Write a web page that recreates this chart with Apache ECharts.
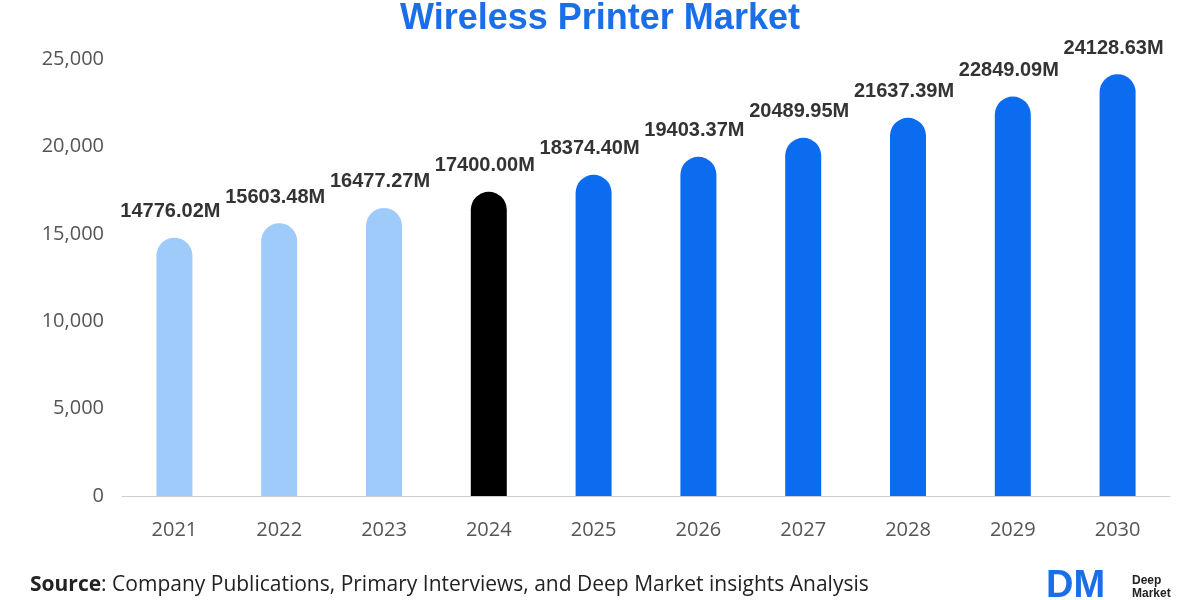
<!DOCTYPE html>
<html><head><meta charset="utf-8">
<script src="https://cdn.jsdelivr.net/npm/echarts@6/dist/echarts.min.js"></script>
<style>html,body{margin:0;background:#fff}#c{width:1200px;height:600px}</style>
</head><body><div id="c"></div>
<script>
var years=['2021','2022','2023','2024','2025','2026','2027','2028','2029','2030'];
var values=[14776.02,15603.48,16477.27,17400.00,18374.40,19403.37,20489.95,21637.39,22849.09,24128.63];
var colors=['#9fcbfa','#9fcbfa','#9fcbfa','#000000','#0b6cf0','#0b6cf0','#0b6cf0','#0b6cf0','#0b6cf0','#0b6cf0'];

var chart=echarts.init(document.getElementById('c'));
var barData=[];
for(var i=0;i<values.length;i++){
  barData.push({value:values[i],itemStyle:{color:colors[i]}});
}
chart.setOption({
  animation:false,
  title:{text:'Wireless Printer Market',left:'center',top:-4,
    textStyle:{color:'#1a6fe8',fontSize:36,fontWeight:'bold',fontFamily:'Liberation Sans'}},
  grid:{left:122,right:30,top:59,bottom:104},
  xAxis:{type:'category',data:years,
    axisLine:{lineStyle:{color:'#cccccc'}},axisTick:{show:false},
    axisLabel:{color:'#555',fontSize:20,margin:24,fontFamily:'Open Sans'}},
  yAxis:{type:'value',min:0,max:25000,interval:5000,
    splitLine:{show:false},
    axisLabel:{color:'#555',fontSize:20,margin:18,fontFamily:'Open Sans',
      formatter:function(v){return v.toLocaleString('en-US');}}},
  series:[{type:'bar',data:barData,barWidth:36,
    itemStyle:{borderRadius:[18,18,0,0]},
    label:{show:true,position:'top',distance:16,offset:[-4,0],color:'#333',fontSize:20,fontWeight:'bold',
      fontFamily:'Liberation Sans',
      formatter:function(p){return p.value.toFixed(2)+'M';}}}],
  graphic:[
    {type:'text',left:30,top:575,style:{rich:{b:{fontWeight:'bold',fontSize:21,fill:'#222',fontFamily:'Open Sans'},n:{fontSize:21,fill:'#222',fontFamily:'Open Sans'}},
      text:'{b|Source}{n|: Company Publications, Primary Interviews, and Deep Market insights Analysis}'}},
    {type:'text',left:1046,top:568,style:{text:'DM',fontSize:38,fontWeight:'bold',fill:'#1a6fe8',fontFamily:'Liberation Sans'}},
    {type:'text',left:1132,top:574,style:{text:'Deep\nMarket',fontSize:12,fontWeight:'bold',fill:'#222',lineHeight:13,fontFamily:'Liberation Sans'}}
  ]
});
</script></body></html>
